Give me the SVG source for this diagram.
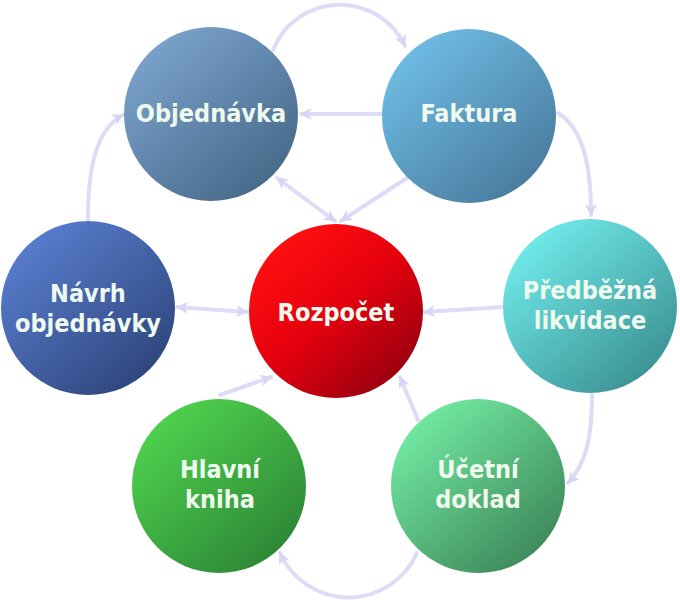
<svg xmlns="http://www.w3.org/2000/svg" width="680" height="600" viewBox="0 0 680 600">
<style>
.lbl{font-family:"DejaVu Sans Condensed","DejaVu Sans",sans-serif;font-weight:bold;font-size:25px;fill:#eefaee;text-anchor:middle}
.con{fill:none;stroke:#dcdcf6;stroke-width:4;stroke-linecap:round}
</style>
<defs>
<marker id="ah" viewBox="0 0 12 12" refX="10" refY="6" markerWidth="13" markerHeight="13" markerUnits="userSpaceOnUse" orient="auto-start-reverse">
<path d="M0,0.5 L11,6 L0,11.5 L3,6 z" fill="#d6d6f4"/>
</marker>
<linearGradient id="gObj" x1="0.15" y1="0.1" x2="0.85" y2="0.9"><stop offset="0" stop-color="#7aa2cc"/><stop offset="1" stop-color="#476989"/></linearGradient>
<linearGradient id="gFak" x1="0.15" y1="0.1" x2="0.85" y2="0.9"><stop offset="0" stop-color="#6fbce4"/><stop offset="1" stop-color="#497c9e"/></linearGradient>
<linearGradient id="gNav" x1="0.15" y1="0.1" x2="0.85" y2="0.9"><stop offset="0" stop-color="#587dce"/><stop offset="1" stop-color="#2e467c"/></linearGradient>
<linearGradient id="gRoz" x1="0.15" y1="0.1" x2="0.85" y2="0.9"><stop offset="0" stop-color="#ff1010"/><stop offset="0.5" stop-color="#e4000e"/><stop offset="1" stop-color="#980010"/></linearGradient>
<linearGradient id="gPre" x1="0.15" y1="0.1" x2="0.85" y2="0.9"><stop offset="0" stop-color="#70eaea"/><stop offset="1" stop-color="#3c9294"/></linearGradient>
<linearGradient id="gHla" x1="0.15" y1="0.1" x2="0.85" y2="0.9"><stop offset="0" stop-color="#4ed24e"/><stop offset="1" stop-color="#2e8636"/></linearGradient>
<linearGradient id="gUce" x1="0.15" y1="0.1" x2="0.85" y2="0.9"><stop offset="0" stop-color="#72eaa2"/><stop offset="1" stop-color="#3e885a"/></linearGradient>
</defs>
<rect width="680" height="600" fill="#ffffff"/>
<g id="connectors">
<path class="con" d="M273,50 A72,72 0 0 1 405,46" marker-end="url(#ah)"/>
<path class="con" d="M382,114 L301,114" marker-end="url(#ah)"/>
<path class="con" d="M558,113 C585,130 591,170 591,215" marker-end="url(#ah)"/>
<path class="con" d="M503,307 L424,312" marker-end="url(#ah)"/>
<path class="con" d="M592,395 C592,440 585,465 568,483" marker-end="url(#ah)"/>
<path class="con" d="M418,420 L400,377" marker-end="url(#ah)"/>
<path class="con" d="M417,553 A75,75 0 0 1 280,553" marker-end="url(#ah)"/>
<path class="con" d="M220,395 L271,377" marker-end="url(#ah)"/>
<path class="con" d="M177,307 L247,312" marker-start="url(#ah)" marker-end="url(#ah)"/>
<path class="con" d="M88,220 C88,170 95,130 123,115" marker-end="url(#ah)"/>
<path class="con" d="M277,178 L335,221" marker-start="url(#ah)" marker-end="url(#ah)"/>
<path class="con" d="M407,178 L341,221" marker-end="url(#ah)"/>
</g>
<g id="objednavka"><circle cx="211" cy="114" r="87" fill="url(#gObj)"/><text class="lbl" x="211" y="122">Objednávka</text></g>
<g id="faktura"><circle cx="469" cy="116" r="87" fill="url(#gFak)"/><text class="lbl" x="469" y="122">Faktura</text></g>
<g id="navrh"><circle cx="88" cy="308" r="87" fill="url(#gNav)"/><text class="lbl" x="88" y="302">Návrh</text><text class="lbl" x="88" y="332">objednávky</text></g>
<g id="rozpocet"><circle cx="336" cy="311" r="87" fill="url(#gRoz)"/><text class="lbl" x="336" y="321">Rozpočet</text></g>
<g id="predbezna"><circle cx="590" cy="306" r="87" fill="url(#gPre)"/><text class="lbl" x="590" y="299">Předběžná</text><text class="lbl" x="590" y="329">likvidace</text></g>
<g id="hlavni"><circle cx="219" cy="486" r="87" fill="url(#gHla)"/><text class="lbl" x="220" y="478">Hlavní</text><text class="lbl" x="220" y="508">kniha</text></g>
<g id="ucetni"><circle cx="478" cy="486" r="87" fill="url(#gUce)"/><text class="lbl" x="478" y="478">Účetní</text><text class="lbl" x="478" y="508">doklad</text></g>
</svg>
